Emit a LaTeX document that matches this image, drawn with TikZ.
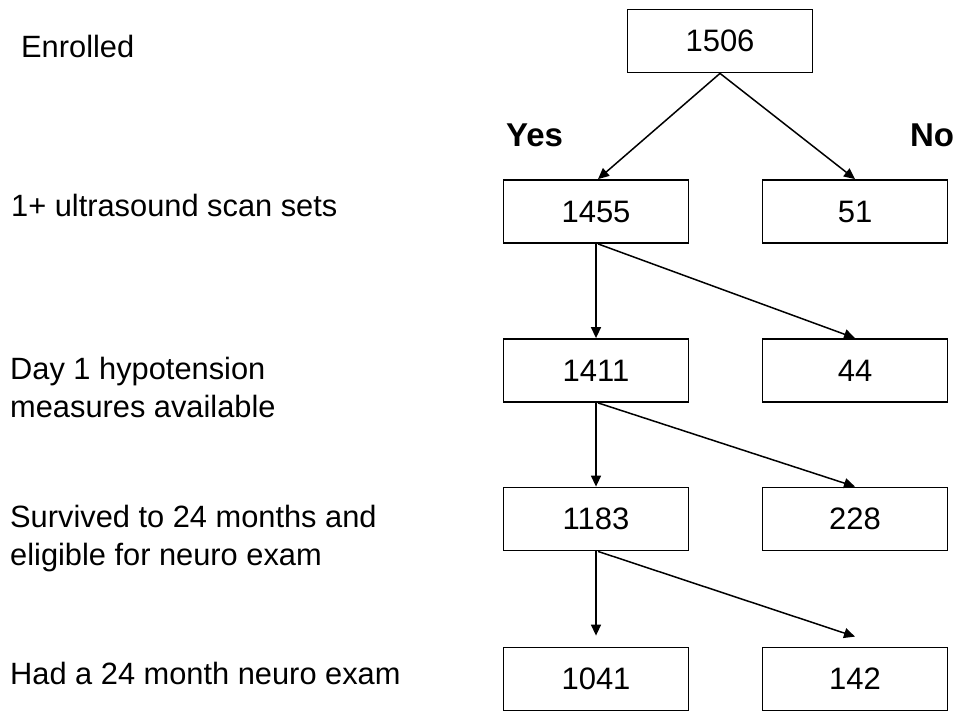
\documentclass[tikz,border=0pt]{standalone}
\usepackage{fontspec}
\setmainfont{Liberation Sans}
\usetikzlibrary{arrows.meta}
\begin{document}
\begin{tikzpicture}[x=1pt,y=-1pt,
  numbox/.style={draw, line width=1.8pt, minimum width=185pt, minimum height=63pt, inner sep=0pt, font=\fontsize{31}{36}\selectfont},
  lbl/.style={inner sep=0pt, align=left, font=\fontsize{30.8}{38}\selectfont},
  yn/.style={inner sep=0pt, anchor=base, font=\fontsize{33}{38}\selectfont\bfseries},
  arr/.style={line width=1.5pt, -{Triangle[length=11pt,width=10pt]}}]
\useasboundingbox (0,0) rectangle (960,711);
% boxes
\node[numbox] (n1506) at (720,41) {1506};
\node[numbox] (n1455) at (596,211.5) {1455};
\node[numbox] (n51) at (855,211.5) {51};
\node[numbox] (n1411) at (596,370.5) {1411};
\node[numbox] (n44) at (855,370.5) {44};
\node[numbox] (n1183) at (596,519) {1183};
\node[numbox] (n228) at (855,519) {228};
\node[numbox] (n1041) at (596,679) {1041};
\node[numbox] (n142) at (855,679) {142};
% yes / no
\node[yn] (yes) at (534.5,147) {Yes};
\node[yn] (no) at (932,147) {No};
% left labels
\node[lbl, anchor=base west] (l1) at (21,58) {Enrolled};
\node[lbl, anchor=base west] (l2) at (11,217) {1+ ultrasound scan sets};
\node[lbl, anchor=north west] (l3) at (10,357) {Day 1 hypotension\\measures available};
\node[lbl, anchor=north west] (l4) at (10,505) {Survived to 24 months and\\eligible for neuro exam};
\node[lbl, anchor=base west] (l5) at (10,684) {Had a 24 month neuro exam};
% arrow ends for last row
\coordinate (t1041) at ([yshift=11pt]n1041.north);
\coordinate (t142) at ([yshift=10pt]n142.north);
% arrows
\draw[arr] (n1506.south) -- ([xshift=2pt]n1455.north);
\draw[arr] (n1506.south) -- (n51.north);
\draw[arr] (n1455.south) -- (n1411.north);
\draw[arr] ([xshift=2pt]n1455.south) -- (n44.north);
\draw[arr] (n1411.south) -- (n1183.north);
\draw[arr] ([xshift=2pt]n1411.south) -- (n228.north);
\draw[arr] (n1183.south) -- (t1041);
\draw[arr] ([xshift=2pt]n1183.south) -- (t142);
\end{tikzpicture}
\end{document}
